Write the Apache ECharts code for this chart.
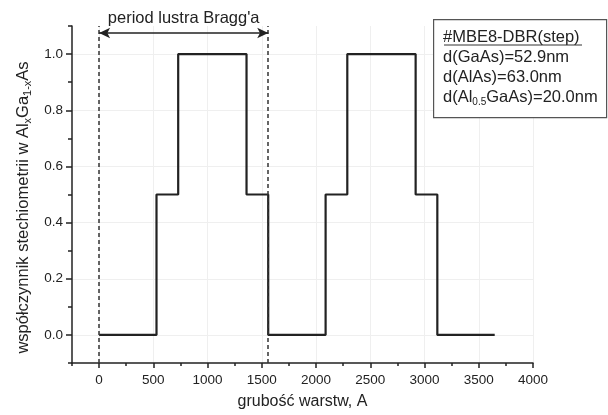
<!DOCTYPE html>
<html>
<head>
<meta charset="utf-8">
<script src="https://cdn.jsdelivr.net/npm/echarts@6/dist/echarts.min.js"></script>
<style>html,body{margin:0;padding:0;background:#fff}#c{width:608px;height:415px}</style>
</head>
<body>
<div id="c"></div>
<script>
// Layer boundaries (Å) and Al fraction x held from each boundary to the next
const boundaries = [0, 529, 729, 1359, 1559, 2088, 2288, 2918, 3118, 3647];
const levels     = [0, 0.5, 1.0, 0.5, 0, 0.5, 1.0, 0.5, 0, 0];
const periodStart = 0;
const periodEnd = 1559;
const arrowLevel = 1.075;
const xTicks = [0, 500, 1000, 1500, 2000, 2500, 3000, 3500, 4000];
const xMinorTicks = [-250, 250, 750, 1250, 1750, 2250, 2750, 3250, 3750];
const yTicks = [0.0, 0.2, 0.4, 0.6, 0.8, 1.0];
const yMinorTicks = [-0.1, 0.1, 0.3, 0.5, 0.7, 0.9, 1.1];
const legendLines = ['#MBE8-DBR(step)', 'd(GaAs)=52.9nm', 'd(AlAs)=63.0nm', 'd(Al{sub|0.5}GaAs)=20.0nm'];

const FONT = 'Liberation Sans, Arial, sans-serif';
const TXT = '#222';
const stepData = boundaries.map((b, i) => [b, levels[i]]);

const chart = echarts.init(document.getElementById('c'), null, {renderer: 'canvas'});
const axisLine = {show: true, onZero: false, lineStyle: {color: '#222', width: 1.5}};
const option = {
  backgroundColor: '#fff',
  animation: false,
  grid: {left: 72, right: 75, top: 26, bottom: 51, containLabel: false},
  xAxis: [{
    type: 'value', min: -250, max: 4000, position: 'bottom',
    axisLine: axisLine,
    axisTick: {show: true, customValues: xTicks, length: 5, lineStyle: {color: '#222', width: 1.5}},
    axisLabel: {customValues: xTicks, fontSize: 13.5, color: TXT, fontFamily: FONT, margin: 10,
      formatter: v => String(v)},
    splitLine: {show: true, lineStyle: {color: '#efefef', width: 1}},
    name: 'grubość warstw, A', nameLocation: 'middle', nameGap: 31,
    nameTextStyle: {fontSize: 16, color: TXT, fontFamily: FONT}
  }, {
    type: 'value', min: -250, max: 4000, position: 'bottom', offset: 0,
    axisLine: {show: false, onZero: false},
    axisTick: {show: true, customValues: xMinorTicks, length: 3, lineStyle: {color: '#222', width: 1.5}},
    axisLabel: {show: false},
    splitLine: {show: false}
  }],
  yAxis: [{
    type: 'value', min: -0.1, max: 1.1, position: 'left',
    axisLine: axisLine,
    axisTick: {show: true, customValues: yTicks, length: 6, lineStyle: {color: '#222', width: 1.5}},
    axisLabel: {customValues: yTicks, fontSize: 13.5, color: TXT, fontFamily: FONT, margin: 9,
      formatter: v => v.toFixed(1)},
    splitLine: {show: true, lineStyle: {color: '#efefef', width: 1}},
    name: 'współczynnik stechiometrii w Al{sub|x}Ga{sub|1-x}As', nameLocation: 'middle', nameGap: 36,
    nameTextStyle: {fontSize: 16.5, color: TXT, fontFamily: FONT, padding: [0, 26, 0, 0],
      rich: {sub: {fontSize: 11, color: TXT, fontFamily: FONT, verticalAlign: 'bottom', padding: [8, 0, 0, 0]}}}
  }, {
    type: 'value', min: -0.1, max: 1.1, position: 'left', offset: 0,
    axisLine: {show: false, onZero: false},
    axisTick: {show: true, customValues: yMinorTicks, length: 4, lineStyle: {color: '#222', width: 1.5}},
    axisLabel: {show: false},
    splitLine: {show: false}
  }],
  series: [{
    type: 'line', step: 'end', data: stepData, xAxisIndex: 0, yAxisIndex: 0,
    symbol: 'none', lineStyle: {color: '#222', width: 2.2},
    markLine: {
      silent: true, symbol: 'none', label: {show: false},
      lineStyle: {color: '#333', type: [4, 3], width: 1.5},
      data: [{xAxis: periodStart}, {xAxis: periodEnd}]
    },
    z: 3
  }, {
    type: 'line', data: [], xAxisIndex: 0, yAxisIndex: 0,
    markLine: {
      silent: true, symbol: ['arrow', 'arrow'], symbolSize: [8, 11],
      lineStyle: {color: '#222', type: 'solid', width: 1.5},
      label: {show: true, position: 'middle', formatter: "period lustra Bragg'a",
        fontSize: 16.5, color: TXT, fontFamily: FONT, distance: 6},
      data: [[{coord: [periodStart, arrowLevel]}, {coord: [periodEnd, arrowLevel]}]]
    }
  }],
  graphic: [
    {type: 'rect', left: 433, top: 19, shape: {width: 173, height: 98},
      style: {fill: '#fff', stroke: '#555', lineWidth: 1.2}, z: 10},
    ...legendLines.map((t, i) => ({
      type: 'text', x: 443, y: 37 + i * 20, z: 11,
      style: {text: t, fontSize: 16.5, fill: TXT, fontFamily: FONT, verticalAlign: 'middle',
        rich: {sub: {fontSize: 10, fill: TXT, fontFamily: FONT, verticalAlign: 'bottom', padding: [10, 0, 0, 0]}}}
    })),
    {type: 'line', z: 11, shape: {x1: 444, y1: 45, x2: 582, y2: 45}, style: {stroke: '#333', lineWidth: 1}}
  ]
};
chart.setOption(option);
</script>
</body>
</html>
